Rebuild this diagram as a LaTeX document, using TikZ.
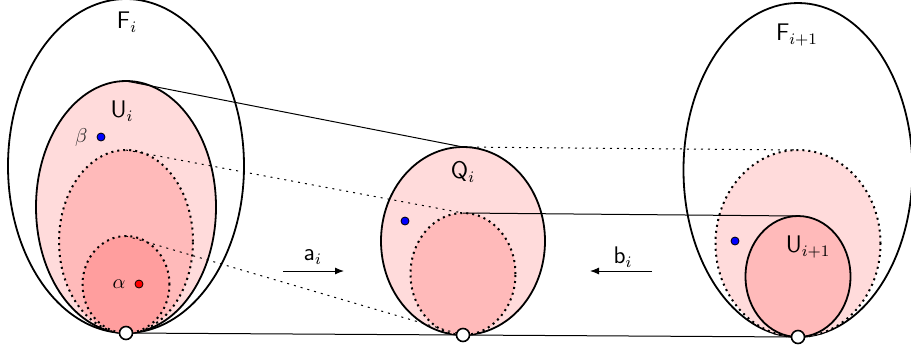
\documentclass[tikz,border=0pt]{standalone}
\usepackage{amsmath,amssymb}
\usepackage{xcolor}
\usepackage{tikz}
\usetikzlibrary{shapes.geometric, arrows.meta, positioning, calc}

\colorlet{pinkA}{red!14}
\colorlet{pinkB}{red!27}
\colorlet{pinkC}{red!38}

\tikzset{
  set/.style={ellipse, draw, line width=0.9pt, inner sep=0pt, outer sep=0pt, anchor=south},
  subset/.style={ellipse, draw, line width=1pt, dotted, inner sep=0pt, outer sep=0pt, anchor=south},
  lbl/.style={font=\large},
  link/.style={line width=0.5pt},
  dlink/.style={line width=0.5pt, dash pattern=on 1pt off 2.5pt},
  base/.style={circle, draw, line width=0.8pt, fill=white, inner sep=0pt, minimum size=6.5pt},
  elem/.style={circle, draw, line width=0.4pt, inner sep=0pt, minimum size=4pt},
  map/.style={line width=0.5pt, -{Latex[length=4.5pt,width=3.5pt]}}
}

\begin{document}
\begin{tikzpicture}[x=0.5pt, y=-0.5pt]
    \useasboundingbox (0,0) rectangle (911,350);

    % base points
    \coordinate (p1) at (126,333);
    \coordinate (p2) at (463,335);
    \coordinate (p3) at (798,337);

    % left: F_i and U_i
    \node[set, minimum width=118pt, minimum height=167pt] (Fi) at (p1) {};
    \node[set, fill=pinkA, minimum width=90pt, minimum height=126pt] (Ui) at (p1) {};
    \node[subset, fill=pinkB, minimum width=67pt, minimum height=91.5pt] (Um) at (p1) {};
    \node[subset, fill=pinkC, minimum width=43.5pt, minimum height=48.5pt] (Uin) at (p1) {};
    \node[lbl] (lFi) at (127,22) {$\mathsf{F}_i$};
    \node[lbl] (lUi) at (122,111) {$\mathsf{U}_i$};

    % middle: Q_i
    \node[set, fill=pinkA, minimum width=82pt, minimum height=94pt] (Q) at (p2) {};
    \node[subset, fill=pinkB, minimum width=52.5pt, minimum height=61pt] (Qin) at (p2) {};
    \node[lbl] (lQ) at (463,172) {$\mathsf{Q}_i$};

    % right: F_{i+1} and U_{i+1}
    \node[set, minimum width=114.5pt, minimum height=167pt] (Fn) at (p3) {};
    \node[subset, fill=pinkA, minimum width=82.5pt, minimum height=93.5pt] (Rm) at (p3) {};
    \node[set, fill=pinkB, minimum width=52.5pt, minimum height=60.5pt] (Un) at (p3) {};
    \node[lbl] (lFn) at (797,35) {$\mathsf{F}_{i+1}$};
    \node[lbl] (lUn) at (808,247) {$\mathsf{U}_{i+1}$};

    % connectors
    \draw[link] (Ui.north) -- (Q.north);
    \draw[dlink] (Um.north) -- (Qin.north);
    \draw[dlink] (Uin.north) -- (p2);
    \draw[link] (p1) -- (p2);
    \draw[dlink] (Q.north) -- (Rm.north);
    \draw[link] (Qin.north) -- (Un.north);
    \draw[link] (p2) -- (p3);

    % elements
    \node[elem, fill=blue] (beta) at (101,137) {};
    \node[left=1pt of beta, text=black!85] (lbeta) {$\beta$};
    \node[elem, fill=red] (alpha) at (139,284) {};
    \node[left=1pt of alpha] (lalpha) {$\alpha$};
    \node[elem, fill=blue] (betaQ) at (405,221) {};
    \node[elem, fill=blue] (betaN) at (735,241) {};

    % maps
    \node[lbl] (la) at (313,257) {$\mathsf{a}_i$};
    \coordinate (a1) at (283,271);
    \coordinate (a2) at (344,271);
    \draw[map] (a1) -- (a2);
    \node[lbl] (lb) at (623,257) {$\mathsf{b}_i$};
    \coordinate (b1) at (652,271);
    \coordinate (b2) at (590,271);
    \draw[map] (b1) -- (b2);

    % base point markers
    \node[base] (o1) at (p1) {};
    \node[base] (o2) at (p2) {};
    \node[base] (o3) at (p3) {};
\end{tikzpicture}
\end{document}
